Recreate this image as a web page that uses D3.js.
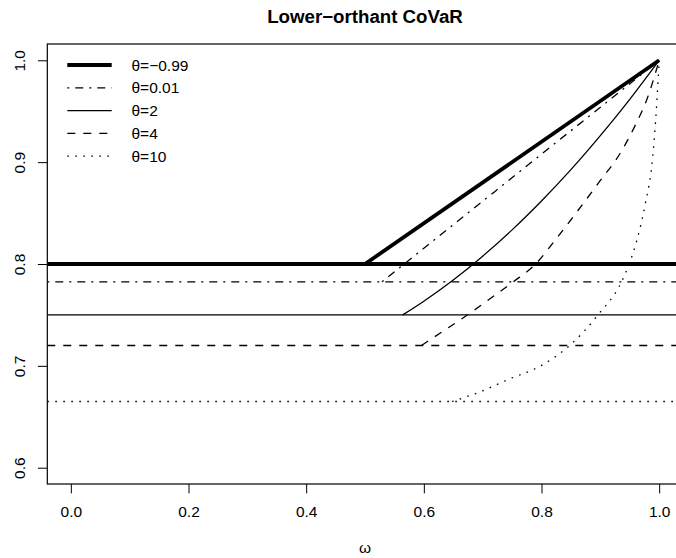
<!DOCTYPE html>
<html>
<head>
<meta charset="utf-8">
<script src="https://cdn.jsdelivr.net/npm/d3@7"></script>
<style>
  html, body { margin: 0; padding: 0; background: #fff; }
  svg { display: block; font-family: "Liberation Sans", Arial, Helvetica, sans-serif; }
</style>
</head>
<body>
<script>
// Lower-orthant CoVaR as a function of omega for several copula parameters
const thetaLabels = ["θ=−0.99", "θ=0.01", "θ=2", "θ=4", "θ=10"];
const lineDash = [null, "2,6,8,6", null, "8,8", "1.6,6.4"];
const lineWidth = [3.8, 1.3, 1.3, 1.3, 1.3];

// constant CoVaR level for each theta (horizontal reference lines)
const levels = [0.8, 0.7825, 0.75, 0.72, 0.665];

// CoVaR curves: [omega, value] pairs for each theta
const curveNeg099 = [[0.5, 0.8], [1.0, 1.0]];
const curve001 = [[0.529, 0.7825], [0.571, 0.802], [0.613, 0.8215], [0.72, 0.8708], [0.831, 0.9221], [1.0, 1.0]];
const curve2 = [[0.564, 0.75], [0.60, 0.7635], [0.65, 0.7843], [0.70, 0.8077], [0.75, 0.8335],
                [0.80, 0.8619], [0.85, 0.8926], [0.90, 0.926], [0.95, 0.9617], [1.0, 1.0]];
const curve4 = [[0.596, 0.72], [0.63, 0.733], [0.674, 0.75], [0.72, 0.769], [0.752, 0.7825],
                [0.79, 0.80], [0.822, 0.8225], [0.86, 0.851], [0.90, 0.882], [0.933, 0.908],
                [0.96, 0.937], [0.98, 0.963], [1.0, 1.0]];
const curve10 = [[0.648, 0.665], [0.70, 0.6755], [0.741, 0.686], [0.80, 0.7005], [0.848, 0.72],
                 [0.896, 0.75], [0.936, 0.7825], [0.949, 0.80], [0.962, 0.8232], [0.976, 0.858],
                 [0.989, 0.905], [0.9955, 0.954], [1.0, 1.0]];
const curves = [curveNeg099, curve001, curve2, curve4, curve10];

const xTicks = [0.0, 0.2, 0.4, 0.6, 0.8, 1.0];
const yTicks = [0.6, 0.7, 0.8, 0.9, 1.0];

const W = 676, H = 558;
const box = { left: 47.3, right: 682.7, top: 44, bottom: 484 };

const svg = d3.select("body").append("svg").attr("width", W).attr("height", H);

const x = d3.scaleLinear().domain([-0.04, 1.04]).range([box.left, box.right]);
const y = d3.scaleLinear().domain([0.584, 1.016]).range([box.bottom, box.top]);

svg.append("defs").append("clipPath").attr("id", "plotclip")
  .append("rect").attr("x", box.left).attr("y", box.top)
  .attr("width", box.right - box.left).attr("height", box.bottom - box.top);

// axes: ticks outside the box, labels in R style
const xAxis = svg.append("g").attr("transform", `translate(0,${box.bottom})`)
  .call(d3.axisBottom(x).tickValues(xTicks).tickFormat(d3.format(".1f")).tickSize(9.4).tickPadding(0));
xAxis.select(".domain").remove();
xAxis.selectAll(".tick line").attr("stroke", "#000").attr("stroke-width", 1);
xAxis.selectAll(".tick text").attr("y", 0).attr("dy", null)
  .attr("transform", "translate(0,33)")
  .attr("font-size", 15.5).attr("fill", "#000").attr("font-family", "Liberation Sans, Arial, sans-serif");

const yAxis = svg.append("g").attr("transform", `translate(${box.left},0)`)
  .call(d3.axisLeft(y).tickValues(yTicks).tickFormat(d3.format(".1f")).tickSize(9.4).tickPadding(0));
yAxis.select(".domain").remove();
yAxis.selectAll(".tick line").attr("stroke", "#000").attr("stroke-width", 1);
yAxis.selectAll(".tick text").attr("x", 0).attr("dy", null)
  .attr("transform", "translate(-22,0) rotate(-90)")
  .attr("text-anchor", "middle")
  .attr("font-size", 15.5).attr("fill", "#000").attr("font-family", "Liberation Sans, Arial, sans-serif");

// plot box
svg.append("rect").attr("x", box.left).attr("y", box.top)
  .attr("width", box.right - box.left).attr("height", box.bottom - box.top)
  .attr("fill", "none").attr("stroke", "#000").attr("stroke-width", 1.2);

const plot = svg.append("g").attr("clip-path", "url(#plotclip)");

// horizontal CoVaR levels spanning the full plot width
plot.selectAll("line.level").data(levels).join("line")
  .attr("class", "level")
  .attr("x1", box.left).attr("x2", box.right)
  .attr("y1", d => y(d)).attr("y2", d => y(d))
  .attr("stroke", "#000")
  .attr("stroke-width", (d, i) => lineWidth[i])
  .attr("stroke-dasharray", (d, i) => lineDash[i]);

const line = d3.line().x(d => x(d[0])).y(d => y(d[1])).curve(d3.curveMonotoneX);
plot.selectAll("path.curve").data(curves).join("path")
  .attr("class", "curve")
  .attr("d", line)
  .attr("fill", "none")
  .attr("stroke", "#000")
  .attr("stroke-width", (d, i) => lineWidth[i])
  .attr("stroke-dasharray", (d, i) => lineDash[i]);

// legend
const legend = svg.append("g");
thetaLabels.forEach((lab, i) => {
  const ly = 65 + i * 22.8;
  legend.append("line").attr("x1", 67.3).attr("x2", 111.7).attr("y1", ly).attr("y2", ly)
    .attr("stroke", "#000").attr("stroke-width", lineWidth[i])
    .attr("stroke-dasharray", lineDash[i]);
  legend.append("text").attr("x", 131.5).attr("y", ly + 5.5)
    .attr("font-size", 15.5).attr("fill", "#000").text(lab);
});

// title and axis label
svg.append("text").attr("x", (box.left + box.right) / 2).attr("y", 23)
  .attr("text-anchor", "middle").attr("font-size", 18.7).attr("font-weight", "bold")
  .text("Lower−orthant CoVaR");
svg.append("text").attr("x", (box.left + box.right) / 2).attr("y", 553)
  .attr("text-anchor", "middle").attr("font-size", 15.5).text("ω");
</script>
</body>
</html>
